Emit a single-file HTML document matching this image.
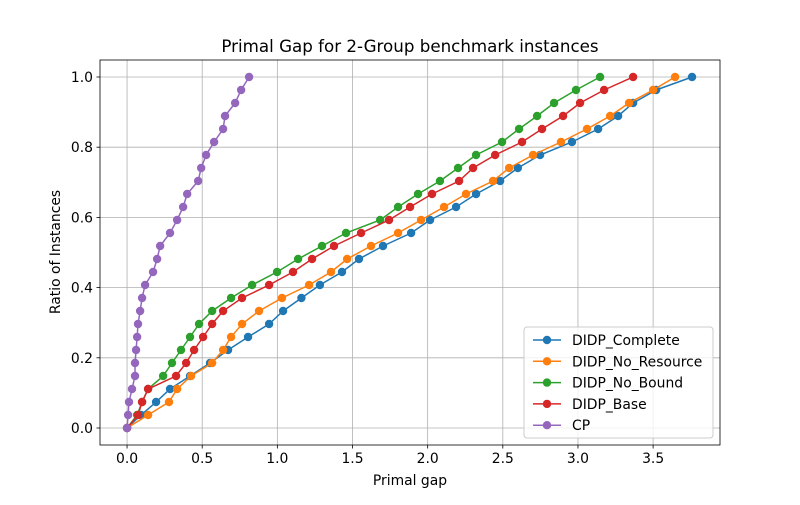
<!DOCTYPE html>
<html><head><meta charset="utf-8"><style>
body{margin:0;background:#fff;}
svg{font-family:"DejaVu Sans","Liberation Sans",sans-serif;}
</style></head><body>
<svg id="chart" width="800" height="500">
<rect width="800" height="500" fill="#fff"/>
<g id="grid"></g><g id="series"></g><g id="axes"></g>
</svg>
<script>
const yLevels = Array.from({length:28},(_, i)=>i/27);
const seriesNames = ["DIDP_Complete","DIDP_No_Resource","DIDP_No_Bound","DIDP_Base","CP"];
const colors = ["#1f77b4","#ff7f0e","#2ca02c","#d62728","#9467bd"];
const completeX = [0,.093,.193,.286,.419,.552,.672,.805,.945,1.038,1.16,1.283,1.43,1.543,1.703,1.89,2.016,2.189,2.322,2.482,2.6,2.748,2.96,3.134,3.267,3.367,3.52,3.759];
const noResourceX = [0,.14,.279,.333,.426,.566,.639,.692,.765,.878,1.031,1.211,1.357,1.464,1.623,1.803,1.956,2.109,2.255,2.435,2.542,2.701,2.887,3.06,3.214,3.34,3.5,3.646];
const noBoundX = [0,.067,.1,.14,.24,.299,.359,.419,.479,.566,.692,.832,.998,1.138,1.297,1.457,1.684,1.803,1.936,2.082,2.202,2.322,2.495,2.608,2.728,2.841,2.987,3.147];
const baseX = [0,.073,.1,.14,.326,.393,.446,.506,.566,.639,.765,.945,1.104,1.231,1.377,1.557,1.743,1.883,2.029,2.209,2.302,2.449,2.628,2.761,2.901,3.014,3.174,3.367];
const cpX = [0,.007,.013,.033,.053,.053,.06,.067,.073,.087,.1,.12,.173,.2,.22,.286,.333,.373,.4,.473,.493,.526,.579,.639,.652,.719,.759,.812];
const xTicks = [0,0.5,1.0,1.5,2.0,2.5,3.0,3.5];
const yTicks = [0,0.2,0.4,0.6,0.8,1.0];

const L=100,R=720,T=60,B=445;
const xMin=-0.18,xMax=3.945,yMin=-0.0484,yMax=1.0484;
const sx=v=>L+(v-xMin)/(xMax-xMin)*(R-L);
const sy=v=>B-(v-yMin)/(yMax-yMin)*(B-T);
const NS="http://www.w3.org/2000/svg";
function mk(tag,attrs,parent,text){const e=document.createElementNS(NS,tag);for(const k in attrs)e.setAttribute(k,attrs[k]);if(text!==undefined)e.textContent=text;parent.appendChild(e);return e;}
const grid=document.getElementById('grid'),ser=document.getElementById('series'),ax=document.getElementById('axes');
const FS=13.9;
xTicks.forEach(t=>{
 const g=mk('line',{x1:sx(t),x2:sx(t),y1:T,y2:B,stroke:'#b0b0b0','stroke-width':0.8},grid);
 
 
 mk('line',{x1:sx(t),x2:sx(t),y1:B,y2:B+3.5,stroke:'#000','stroke-width':0.8},ax);
 const l=mk('text',{x:sx(t),y:B+18,'text-anchor':'middle','font-size':FS,fill:'#000'},ax,t.toFixed(1));
 
 
});
yTicks.forEach(t=>{
 const g=mk('line',{x1:L,x2:R,y1:sy(t),y2:sy(t),stroke:'#b0b0b0','stroke-width':0.8},grid);
 
 
 mk('line',{x1:L-3.5,x2:L,y1:sy(t),y2:sy(t),stroke:'#000','stroke-width':0.8},ax);
 const l=mk('text',{x:L-7,y:sy(t)+5,'text-anchor':'end','font-size':FS,fill:'#000'},ax,t.toFixed(1));
 
 
});
const allX=[completeX,noResourceX,noBoundX,baseX,cpX];
allX.forEach((xs,i)=>{
 const g=mk('g',{},ser);
 
 
 mk('polyline',{points:xs.map((x,j)=>sx(x)+','+sy(yLevels[j])).join(' '),fill:'none',stroke:colors[i],'stroke-width':1.5},g);
 xs.forEach((x,j)=>{
  const c=mk('circle',{cx:sx(x),cy:sy(yLevels[j]),r:4.2,fill:colors[i]},g);
  
  
 });
});
const frame=mk('rect',{x:L,y:T,width:R-L,height:B-T,fill:'none',stroke:'#000','stroke-width':0.8},ax);


const title=mk('text',{x:410,y:52,'text-anchor':'middle','font-size':16.7,fill:'#000'},ax,'Primal Gap for 2-Group benchmark instances');


const xl=mk('text',{x:410,y:485,'text-anchor':'middle','font-size':FS,fill:'#000'},ax,'Primal gap');


const yl=mk('text',{x:60,y:252,'text-anchor':'middle','font-size':FS,fill:'#000',transform:'rotate(-90 60 252)'},ax,'Ratio of Instances');


const leg=mk('g',{},ax);


mk('rect',{x:524,y:327,width:189,height:111,rx:3,fill:'#fff','fill-opacity':0.8,stroke:'#ccc','stroke-width':1},leg);
seriesNames.forEach((n,i)=>{
 const y=340+i*21.3;
 const e=mk('g',{},leg);
 
 
 mk('line',{x1:533,x2:561,y1:y,y2:y,stroke:colors[i],'stroke-width':1.5},e);
 mk('circle',{cx:547,cy:y,r:4.2,fill:colors[i]},e);
 mk('text',{x:572,y:y+5,'font-size':FS,fill:'#000'},e,n);
});
</script>
</body></html>
